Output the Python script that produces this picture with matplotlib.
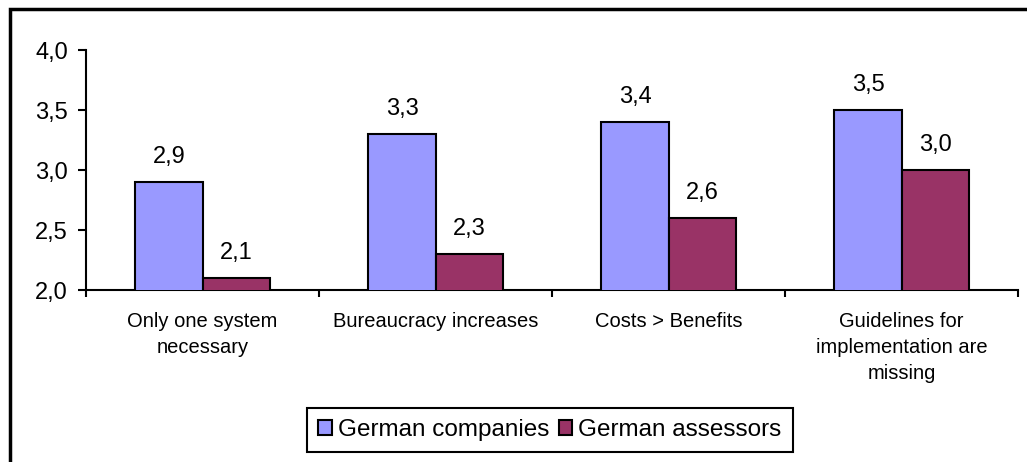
import matplotlib
matplotlib.use("Agg")
import matplotlib.pyplot as plt
from matplotlib.patches import Rectangle
from matplotlib.ticker import FixedLocator
import numpy as np

categories = ["Only one system\nnecessary", "Bureaucracy increases",
              "Costs > Benefits", "Guidelines for\nimplementation are\nmissing"]
companies = [2.9, 3.3, 3.4, 3.5]
assessors = [2.1, 2.3, 2.6, 3.0]
series_names = ["German companies", "German assessors"]
y_ticks = [2.0, 2.5, 3.0, 3.5, 4.0]

plt.rcParams["font.family"] = ["Liberation Sans", "DejaVu Sans"]

W, H = 1027, 462
fig = plt.figure(figsize=(W / 100, H / 100), dpi=100)
ax = fig.add_axes([86 / W, 1 - 290 / H, (1018 - 86) / W, (290 - 50) / H])

x = np.arange(len(categories))
bw = 0.2876
b1 = ax.bar(x - bw / 2, companies, bw, bottom=0, color="#9999FF",
            edgecolor="black", linewidth=1.5, label=series_names[0], zorder=3)
b2 = ax.bar(x + bw / 2, assessors, bw, bottom=0, color="#993366",
            edgecolor="black", linewidth=1.5, label=series_names[1], zorder=3)

for bars, vals in ((b1, companies), (b2, assessors)):
    for rect, v in zip(bars, vals):
        ax.annotate(f"{v:.1f}".replace(".", ","),
                    (rect.get_x() + rect.get_width() / 2, v),
                    xytext=(0, 13.5), textcoords="offset points",
                    ha="center", va="baseline", fontsize=17)

ax.set_ylim(2.0, 4.0)
ax.set_xlim(-0.5, len(categories) - 0.5)
ax.yaxis.set_major_locator(FixedLocator(y_ticks))
ax.set_yticklabels([f"{t:.1f}".replace(".", ",") for t in y_ticks], fontsize=17)
ax.tick_params(axis="y", length=6, width=1.5, pad=7)

# category separators as ticks on the x axis
ax.xaxis.set_major_locator(FixedLocator(np.arange(len(categories) + 1) - 0.5))
ax.set_xticklabels([])
ax.tick_params(axis="x", length=5, width=1.5)
for xi, lab in zip(x, categories):
    ax.annotate(lab, (xi, 0), xycoords=ax.get_xaxis_transform(),
                xytext=(0, -16), textcoords="offset points",
                ha="center", va="top", fontsize=14.5, linespacing=1.47)

for s in ("top", "right"):
    ax.spines[s].set_visible(False)
for s in ("left", "bottom"):
    ax.spines[s].set_linewidth(1.5)

leg = fig.legend(loc="center", bbox_to_anchor=(550 / W, 1 - 430 / H), ncol=2,
                 fontsize=17.5, frameon=True, fancybox=False, framealpha=1,
                 edgecolor="black", handlelength=0.55, handleheight=0.55,
                 handletextpad=0.25, columnspacing=0.4, borderpad=0.45,
                 borderaxespad=0)
leg.get_frame().set_linewidth(1.5)

# outer chart border (left and top edges visible)
fig.patches.append(Rectangle((10 / W, -0.1), 1.2, 1 - 9 / H + 0.1,
                             transform=fig.transFigure, fill=False,
                             edgecolor="black", linewidth=2.5))

fig.savefig("out.png", dpi=100)
